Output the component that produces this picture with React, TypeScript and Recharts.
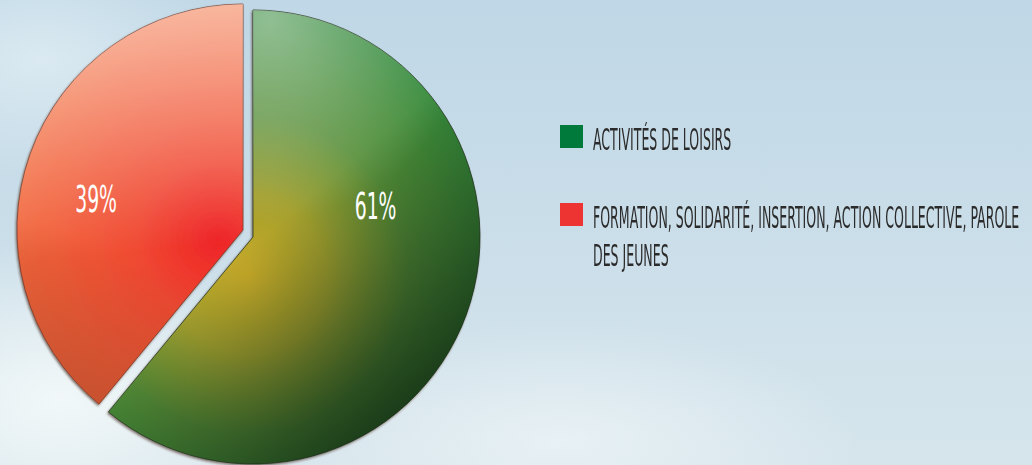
import React from "react";
import { PieChart, Pie, Cell } from "recharts";

// shares of the two activity groups (percent)
const categories = [
  "ACTIVITÉS DE LOISIRS",
  "FORMATION, SOLIDARITÉ, INSERTION, ACTION COLLECTIVE, PAROLE DES JEUNES",
];
const shares = [61, 39];
const legendColors = ["#007a3b", "#ee3333"];

const data = categories.map((name, i) => ({ name, value: shares[i] }));

const W = 1032;
const H = 465;
const FONT = "'Liberation Sans Narrow', 'DejaVu Sans Condensed', sans-serif";

// where each slice's piece sits (the red one is pulled out to the upper left)
const GREEN = { cx: 253, cy: 237, r: 227 };
const RED = { cx: 243, cy: 230, r: 226 };

function makeLabel(visible: number, kx: number) {
  return (props: any) => {
    const { cx, cy, outerRadius, index, percent } = props;
    if (index !== visible) return null;
    const x = cx + kx * outerRadius;
    const y = cy - outerRadius * 0.08;
    return (
      <text
        x={0}
        y={0}
        transform={`translate(${x},${y}) scale(0.55,1)`}
        textAnchor="middle"
        fill="#ffffff"
        fontFamily={FONT}
        fontSize={38}
      >
        {`${Math.round(percent * 100)}%`}
      </text>
    );
  };
}

// one layer of a slice: same data, only slice `visible` is painted
function layer(
  key: string,
  pos: { cx: number; cy: number; r: number },
  visible: number,
  fill: string,
  opts: { stroke?: string; label?: any; shadow?: boolean } = {}
) {
  return (
    <Pie
      key={key}
      data={data}
      dataKey="value"
      nameKey="name"
      cx={pos.cx}
      cy={pos.cy}
      outerRadius={pos.r}
      startAngle={90}
      endAngle={-270}
      isAnimationActive={false}
      labelLine={false}
      label={opts.label ?? false}
      style={opts.shadow ? { filter: "url(#edge)" } : undefined}
    >
      {data.map((d, i) => (
        <Cell
          key={d.name}
          fill={i === visible ? fill : "transparent"}
          stroke={i === visible && opts.stroke ? opts.stroke : "none"}
          strokeWidth={0.8}
        />
      ))}
    </Pie>
  );
}

export default function App() {
  return (
    <div
      style={{
        position: "absolute",
        left: 0,
        top: 0,
        width: W,
        height: H,
        overflow: "hidden",
        background:
          "radial-gradient(ellipse 260px 160px at 60px 400px, rgba(245,250,250,0.9), rgba(245,250,250,0) 100%)," +
          "radial-gradient(ellipse 300px 120px at 560px 440px, rgba(240,246,248,0.7), rgba(240,246,248,0) 100%)," +
          "radial-gradient(ellipse 200px 120px at 40px 60px, rgba(225,238,244,0.8), rgba(225,238,244,0) 100%)," +
          "linear-gradient(180deg, #bfd7e6 0%, #c9dde9 45%, #d6e5ec 100%)",
      }}
    >
      <PieChart width={W} height={H} margin={{ top: 0, right: 0, bottom: 0, left: 0 }}>
        <defs>
          <radialGradient id="greenGrad" gradientUnits="userSpaceOnUse" cx={248} cy={275} r={260}>
            <stop offset="0%" stopColor="#c8aa28" />
            <stop offset="30%" stopColor="#a4a02e" />
            <stop offset="62%" stopColor="#558e38" />
            <stop offset="100%" stopColor="#348a3a" />
          </radialGradient>
          <linearGradient id="greenDark" gradientUnits="userSpaceOnUse" x1={265} y1={235} x2={425} y2={420}>
            <stop offset="0%" stopColor="#0e2410" stopOpacity={0} />
            <stop offset="55%" stopColor="#0e2410" stopOpacity={0.45} />
            <stop offset="100%" stopColor="#0e2410" stopOpacity={0.85} />
          </linearGradient>
          <radialGradient id="greenSheen" gradientUnits="userSpaceOnUse" cx={270} cy={20} r={200}>
            <stop offset="0%" stopColor="#ffffff" stopOpacity={0.45} />
            <stop offset="100%" stopColor="#ffffff" stopOpacity={0} />
          </radialGradient>

          <radialGradient id="redGrad" gradientUnits="userSpaceOnUse" cx={218} cy={238} r={240}>
            <stop offset="0%" stopColor="#ee2327" />
            <stop offset="35%" stopColor="#f04a32" />
            <stop offset="100%" stopColor="#f2703e" />
          </radialGradient>
          <linearGradient id="redSheen" gradientUnits="userSpaceOnUse" x1={150} y1={10} x2={170} y2={250}>
            <stop offset="0%" stopColor="#ffffff" stopOpacity={0.5} />
            <stop offset="100%" stopColor="#ffffff" stopOpacity={0} />
          </linearGradient>
          <linearGradient id="redShade" gradientUnits="userSpaceOnUse" x1={150} y1={260} x2={100} y2={410}>
            <stop offset="0%" stopColor="#9a3a22" stopOpacity={0} />
            <stop offset="100%" stopColor="#9a3a22" stopOpacity={0.5} />
          </linearGradient>
          <filter id="edge" x="-10%" y="-10%" width="120%" height="120%">
            <feDropShadow dx={-1} dy={1.5} stdDeviation={1} floodColor="#3a2418" floodOpacity={0.6} />
          </filter>
        </defs>

        {layer("g0", GREEN, 0, "url(#greenGrad)", { stroke: "#2a3a24", shadow: true })}
        {layer("g1", GREEN, 0, "url(#greenDark)")}
        {layer("g2", GREEN, 0, "url(#greenSheen)", { label: makeLabel(0, 0.54) })}

        {layer("r0", RED, 1, "url(#redGrad)", { stroke: "#7a3a26", shadow: true })}
        {layer("r1", RED, 1, "url(#redSheen)")}
        {layer("r2", RED, 1, "url(#redShade)", { label: makeLabel(1, -0.65) })}
      </PieChart>

      <div style={{ position: "absolute", left: 560, top: 120, width: 470 }}>
        {categories.map((name, i) => (
          <div key={name} style={{ position: "relative", height: 78 }}>
            <div
              style={{
                position: "absolute",
                left: 0,
                top: 5,
                width: 23,
                height: 23,
                background: legendColors[i],
              }}
            />
            <div
              style={{
                position: "absolute",
                left: 33,
                top: 0,
                width: 1000,
                transform: "scaleX(0.45)",
                transformOrigin: "left top",
                fontFamily: FONT,
                fontSize: 31,
                lineHeight: "38px",
                color: "#2b2b2b",
              }}
            >
              {name}
            </div>
          </div>
        ))}
      </div>
    </div>
  );
}
